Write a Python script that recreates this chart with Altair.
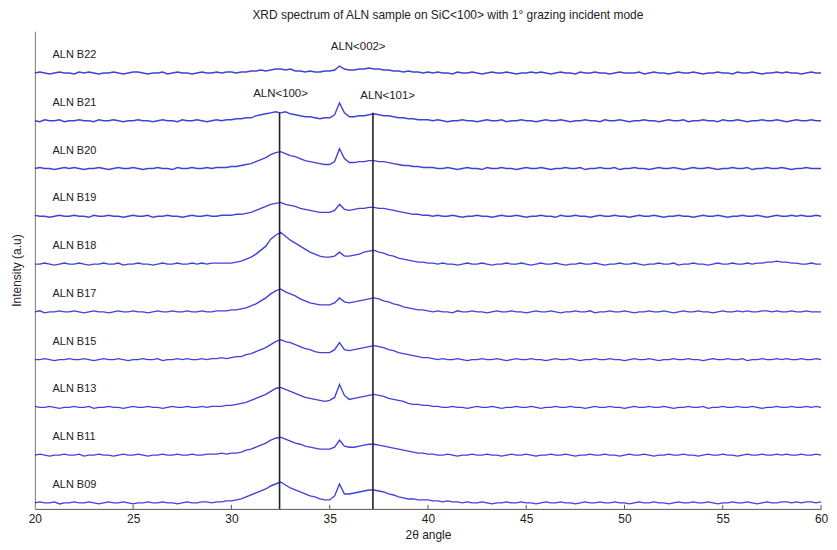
import altair as alt
import pandas as pd

# ---- data (intensity above each trace's own baseline, a.u.) ----
samples = ["ALN B09", "ALN B11", "ALN B13", "ALN B15", "ALN B17",
           "ALN B18", "ALN B19", "ALN B20", "ALN B21", "ALN B22"]
offsets = [0, 48, 96, 144, 192, 240, 288, 336, 384, 432]

# 2-theta sampling: 20.00 .. 60.00 every 0.25 degree (161 points)
two_theta = [20 + 0.25 * i for i in range(161)]

B22 = [1,2,1,0,1,2,1,1,0,2, 1,2,1,0,1,1,2,1,0,1, 2,2,1,0,1,1,2,0,1,2, 1,1,0,1,2,1,1,2,1,2,
       2,1,2,2,3,3,4,3,4,5, 5,4,5,3,3,2,3,2,2,3, 3,4,8,5,4,4,5,5,6,5, 5,4,4,3,3,2,3,2,2,1, 2,
       1,2,1,1,0,2,1,1,2,1, 0,1,2,1,1,2,1,0,1,1, 2,1,2,1,0,1,2,1,1,0, 2,1,1,2,1,1,0,1,2,1,
       1,1,2,0,1,2,1,1,0,1, 2,1,1,2,1,0,1,1,2,1, 1,0,2,1,1,2,1,0,1,1, 2,1,2,1,1,0,1,2,1,1]
B21 = [1,0,2,1,1,2,0,1,1,2, 1,1,0,2,1,1,2,1,0,1, 1,2,1,1,0,1,2,1,1,0, 2,1,1,2,1,0,1,2,1,2,
       2,3,3,4,4,6,7,8,9,10, 9,10,8,7,6,5,5,4,3,4, 4,7,19,9,5,5,6,6,7,8, 7,6,6,5,4,4,3,3,2,2, 2,
       1,2,1,0,1,1,2,1,1,0, 1,2,1,1,2,0,1,1,2,1, 1,0,1,2,1,1,2,1,0,1, 1,2,1,1,0,2,1,1,2,1,
       0,1,1,2,1,1,0,1,2,1, 1,2,0,1,1,2,1,1,0,2, 1,1,2,1,0,1,1,2,1,1, 2,1,0,1,2,1,1,2,1,1]
B20 = [1,2,1,1,0,1,2,1,2,1, 0,1,1,2,1,0,1,2,1,1, 2,1,0,1,1,2,1,1,0,2, 1,1,2,1,1,2,1,2,2,2,
       3,3,4,5,6,8,10,12,15,17, 18,16,14,13,11,9,8,7,6,5, 5,8,21,11,7,7,8,8,9,9, 8,8,7,6,5,4,4,3,3,2, 2,
       2,1,1,2,1,0,1,2,1,1, 0,2,1,1,2,1,1,0,1,2, 1,1,2,1,0,1,1,2,1,1, 2,0,1,1,2,1,1,2,0,1,
       1,2,1,1,0,1,2,1,1,2, 1,0,1,2,1,1,2,1,0,1, 1,2,1,1,2,0,1,1,2,1, 1,2,1,0,1,1,2,1,1,1]
B19 = [2,1,1,0,1,2,1,1,2,1, 1,0,2,1,1,2,1,1,0,1, 2,1,1,2,0,1,1,2,1,1, 0,1,2,1,1,2,1,1,2,2,
       2,3,3,4,5,7,9,11,13,14, 15,13,12,11,9,8,7,6,5,5, 5,7,13,8,7,8,9,9,10,10, 9,9,8,7,6,5,4,3,3,2, 2,
       1,2,1,1,2,1,0,1,1,2, 1,1,0,1,2,1,1,2,1,0, 1,1,2,1,1,0,2,1,1,2, 1,1,0,1,2,1,1,2,1,1,
       0,1,2,1,1,2,1,0,1,1, 2,1,1,0,1,2,1,1,2,1, 0,1,1,2,1,1,2,1,0,1, 2,1,1,2,1,2,1,1,2,1]
B18 = [1,1,2,1,0,1,2,1,1,2, 1,0,1,1,2,1,1,2,0,1, 1,2,1,1,0,1,2,1,1,2, 1,1,2,1,2,1,2,2,2,2,
       2,3,4,6,8,11,15,19,26,30, 33,29,25,22,19,16,13,11,9,8, 8,9,13,9,9,10,11,13,14,15, 13,12,10,9,7,6,5,4,3,3, 2,
       2,1,2,1,1,0,1,2,1,1, 2,1,0,1,1,2,1,1,2,1, 0,1,2,1,1,2,1,0,1,1, 2,1,1,2,1,0,1,1,2,1,
       1,2,1,0,1,1,2,1,1,2, 0,1,1,2,1,1,0,1,2,1, 1,2,1,1,2,1,2,2,3,3, 4,3,3,2,2,1,1,2,1,1]
B17 = [1,2,0,1,1,2,1,1,2,1, 0,1,2,1,1,0,1,2,1,1, 2,1,1,0,1,2,1,1,2,1, 1,2,1,1,2,1,1,2,2,2,
       3,3,4,5,7,9,12,15,19,22, 24,21,19,17,14,12,10,9,8,8, 8,10,15,11,10,11,12,13,14,15, 14,12,11,9,8,6,5,4,3,3, 2,
       1,2,1,1,0,2,1,1,2,1, 1,0,1,2,1,1,2,1,1,0, 1,2,1,1,2,1,0,1,1,2, 1,1,2,0,1,1,2,1,1,2,
       1,0,1,1,2,1,1,2,1,0, 1,2,1,1,2,1,1,0,1,2, 1,1,2,1,2,1,1,2,2,1, 2,1,1,2,1,1,2,1,1,1]
B15 = [1,1,2,1,0,1,1,2,1,1, 2,1,0,1,2,1,1,2,1,0, 1,1,2,1,1,2,0,1,1,2, 1,2,1,1,2,1,2,2,3,2,
       3,4,4,6,7,9,11,13,16,19, 21,19,18,16,14,12,11,9,8,8, 8,11,18,11,10,11,12,13,14,15, 14,13,11,10,8,7,6,5,4,3, 3,
       2,1,2,1,1,2,1,0,1,1, 2,1,1,2,1,0,1,2,1,1, 2,1,1,0,1,2,1,1,2,1, 0,1,1,2,1,1,2,1,1,0,
       1,2,1,1,2,1,0,1,1,2, 1,1,2,1,1,0,1,2,1,1, 2,1,1,2,0,1,1,2,1,1, 2,1,2,1,1,2,1,1,2,1]
B13 = [2,1,1,2,1,0,1,1,2,1, 1,2,0,1,1,2,1,1,0,1, 2,1,1,2,1,1,0,1,2,1, 1,2,1,1,2,1,2,2,2,3,
       3,4,5,6,8,10,12,14,17,20, 21,19,17,15,13,11,10,9,8,7, 8,11,24,13,9,10,11,12,13,14, 13,12,10,9,8,7,5,4,4,3, 3,
       2,2,1,1,2,1,1,0,1,2, 1,1,2,1,0,1,1,2,1,1, 2,1,0,1,1,2,1,1,2,1, 1,0,1,2,1,1,2,1,1,0,
       1,2,1,1,2,1,1,2,1,0, 1,1,2,1,1,2,0,1,1,2, 1,1,2,1,1,2,1,0,1,1, 2,1,1,2,1,1,2,1,2,1]
B11 = [1,2,1,0,1,1,2,1,1,2, 0,1,1,2,1,1,0,1,2,1, 1,2,1,0,1,1,2,1,1,2, 1,1,2,1,1,2,2,2,3,2,
       3,3,4,6,7,9,11,13,16,18, 19,17,15,13,12,10,9,8,7,7, 7,9,16,10,9,9,10,11,12,12, 11,10,9,8,7,6,5,4,3,3, 2,
       2,1,1,2,1,0,1,1,2,1, 1,2,1,1,0,1,2,1,1,2, 1,0,1,1,2,1,1,2,1,0, 1,1,2,1,1,2,1,1,0,1,
       2,1,1,2,1,0,1,1,2,1, 1,2,1,1,0,1,2,1,1,2, 1,1,0,1,2,1,1,2,1,1, 2,1,2,1,1,2,1,1,2,1]
B09 = [1,2,1,1,2,0,1,1,2,1, 1,2,1,0,1,2,1,1,2,1, 0,1,1,2,1,1,2,1,1,0, 1,2,1,1,2,2,1,2,2,3,
       3,4,5,7,9,11,13,15,18,20, 22,19,16,14,12,10,8,7,5,4, 4,8,20,10,10,11,12,13,14,14, 13,12,10,9,7,6,5,5,4,4, 4,
       3,3,2,3,2,2,1,2,1,1, 2,1,0,1,1,2,1,1,2,1, 1,0,1,2,1,1,2,1,1,0, 1,2,1,1,2,1,1,2,1,1,
       0,1,2,1,1,2,1,1,0,1, 2,1,1,2,1,1,2,1,0,1, 1,2,1,1,2,1,0,1,2,1, 1,2,2,1,2,1,2,2,1,2]

traces = [B09, B11, B13, B15, B17, B18, B19, B20, B21, B22]

peak_pos = [32.45, 37.2]
peak_names = ["ALN<100>", "ALN<101>", "ALN<002>"]
peak_label_x = [32.5, 37.95, 36.45]
peak_label_y = [412, 410, 459]
x_ticks = [20, 25, 30, 35, 40, 45, 50, 55, 60]

# ---- tables ----
rows = []
for name, off, vals in zip(samples, offsets, traces):
    assert len(vals) == len(two_theta), (name, len(vals))
    for t, v in zip(two_theta, vals):
        rows.append({"sample": name, "theta": t, "I": v + off})
spec = pd.DataFrame(rows)

lab = pd.DataFrame({"sample": samples, "x": [20.9] * 10, "y": [o + 19 for o in offsets]})
vlines = pd.DataFrame({"x": peak_pos, "y": [393, 393], "y2": [-5, -5]})
plab = pd.DataFrame({"t": peak_names, "x": peak_label_x, "y": peak_label_y})
ticks = pd.DataFrame({"x": x_ticks[1:-1] + [60], "y": [-5] * 8, "y2": [-1] * 8})

FONT = "Liberation Sans"
xs = alt.Scale(domain=[20, 60], nice=False, zero=False)
ys = alt.Scale(domain=[-5, 475], nice=False, zero=False)

lines = alt.Chart(spec).mark_line(strokeWidth=1.4, color="#2c2cd4", opacity=0.9).encode(
    x=alt.X("theta:Q", scale=xs,
            axis=alt.Axis(values=x_ticks, ticks=False, grid=False, labelFontSize=12,
                          labelFlush=False, labelPadding=5, labelColor="#222",
                          title="2θ angle", titleFontSize=12, titleFontWeight="normal",
                          titleColor="#222", titlePadding=5, domainColor="#555",
                          labelFont=FONT, titleFont=FONT)),
    y=alt.Y("I:Q", scale=ys,
            axis=alt.Axis(labels=False, ticks=False, grid=False, title="Intensity (a.u)",
                          titleFontSize=12, titleFontWeight="normal", titleColor="#222",
                          titlePadding=11, domainColor="#777", titleFont=FONT)),
    detail="sample:N",
    order="theta:Q",
)

rules = alt.Chart(vlines).mark_rule(color="#222", strokeWidth=1.6).encode(
    x=alt.X("x:Q", scale=xs), y=alt.Y("y:Q", scale=ys), y2="y2:Q")

tick_marks = alt.Chart(ticks).mark_rule(color="#555", strokeWidth=1).encode(
    x=alt.X("x:Q", scale=xs), y=alt.Y("y:Q", scale=ys), y2="y2:Q")

names = alt.Chart(lab).mark_text(align="left", baseline="middle", fontSize=11,
                                 font=FONT, color="#222").encode(
    x=alt.X("x:Q", scale=xs), y=alt.Y("y:Q", scale=ys), text="sample:N")

peaks = alt.Chart(plab).mark_text(align="center", baseline="middle", fontSize=11.5,
                                  font=FONT, color="#222").encode(
    x=alt.X("x:Q", scale=xs), y=alt.Y("y:Q", scale=ys), text="t:N")

chart = alt.layer(lines, rules, tick_marks, names, peaks).properties(
    width=790, height=480,
    autosize="none",
    padding={"left": 27, "top": 22, "right": 8, "bottom": 40},
    title=alt.TitleParams("XRD spectrum of ALN sample on SiC<100> with 1° grazing incident mode",
                          fontSize=12, fontWeight="normal", color="#222", font=FONT,
                          offset=9, dx=20),
).configure_view(stroke="transparent")

chart.save("out.html", embed_options={"renderer": "svg", "actions": False})
